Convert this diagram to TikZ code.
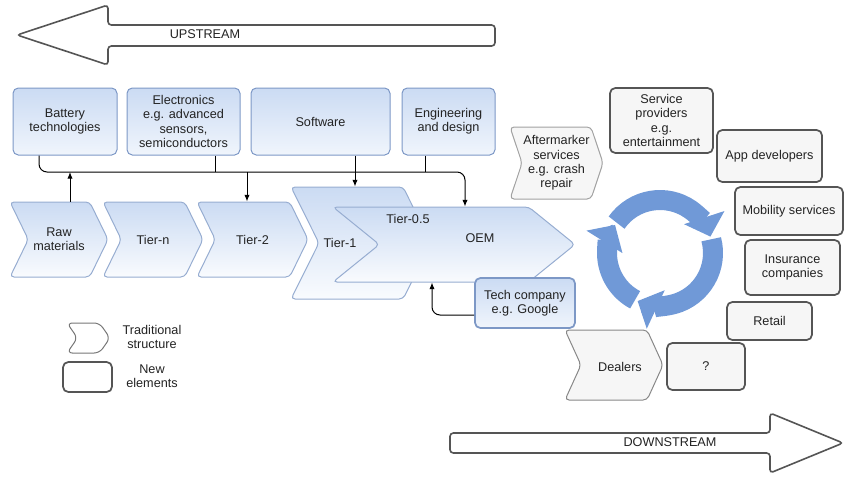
\documentclass[tikz,border=0pt]{standalone}
\usepackage{fontspec}
\setmainfont{Liberation Sans}
\usetikzlibrary{shapes.symbols,arrows.meta}

\definecolor{inktext}{RGB}{35,35,35}
\definecolor{blueline}{RGB}{125,152,198}
\definecolor{bluetop}{RGB}{203,219,243}
\definecolor{bluebot}{RGB}{240,245,252}
\definecolor{greyline}{RGB}{85,85,85}
\definecolor{greyfill}{RGB}{246,246,246}
\definecolor{cycblue}{RGB}{112,153,215}

\tikzset{every picture/.style={line width=0.75pt}}
\tikzset{
  every node/.style={font=\fontsize{9.5}{10.7}\selectfont, text=inktext, align=center, inner sep=0.75pt},
  bluebox/.style={rounded corners=4pt, draw=blueline, top color=bluetop, bottom color=bluebot, minimum height=50.25pt},
  chev/.style={signal, signal to=east, signal from=west, signal pointer angle=128, rounded corners=3pt,
    draw=blueline!80, top color=bluetop, bottom color=bluebot!40, minimum height=56.25pt},
  newbox/.style={rounded corners=4pt, draw=greyline, line width=1.3pt, fill=greyfill},
  greychev/.style={signal, signal to=east, signal from=west, rounded corners=3pt, draw=greyline!70, fill=greyfill},
  bigarrow/.style={rounded corners=2.5pt, draw=greyline, line width=1.2pt, fill=white},
  link/.style={-{Latex[length=5pt,width=4pt]}},
  cycarrow/.style={draw=cycblue, line width=15pt, -{Triangle[width=31pt,length=15pt]}}
}

\begin{document}
\begin{tikzpicture}[x=0.75pt,y=0.75pt,yscale=-1,xscale=1]
\useasboundingbox (0,0) rectangle (846,476);

%upstream / downstream
\draw[bigarrow] (17,35) -- (108,5) -- (108,25) -- (495,25) -- (495,46) -- (108,46) -- (108,65) -- cycle;
\node (up) at (205,34) {UPSTREAM};
\draw[bigarrow] (450,433) -- (770,433) -- (770,413) -- (843,443) -- (770,473) -- (770,453) -- (450,453) -- cycle;
\node (down) at (670,442) {DOWNSTREAM};

%suppliers on top
\node[bluebox, minimum width=78pt] (bat) at (65,121.5) {Battery\\technologies};
\node[bluebox, minimum width=84.75pt] (elec) at (183.5,121.5) {Electronics\\e.g. advanced\\sensors,\\semiconductors};
\node[bluebox, minimum width=104.25pt] (sw) at (320.5,121.5) {Software};
\node[bluebox, minimum width=69.75pt] (eng) at (448.5,121.5) {Engineering\\and design};

%traditional chain
\node[chev, minimum width=73.5pt] (raw) at (59,239.5) {Raw\\materials};
\node[chev, minimum width=75pt] (tn) at (153,239.5) {Tier-n};
\node[chev, minimum width=83.25pt] (t2) at (252.5,239.5) {Tier-2};
\node[chev, minimum width=105pt, minimum height=84pt, signal pointer angle=127] (t1) at (361,243) {};
\node (t1txt) at (340,243) {Tier-1};
\node[chev, minimum width=181.5pt, signal pointer angle=78] (oem) at (454,244.5) {};
\node (halftxt) at (408,219) {Tier-0.5};
\node (oemtxt) at (480,238) {OEM};
\node[bluebox, line width=1.3pt, minimum width=75pt, minimum height=37.5pt] (tech) at (525,303) {Tech company\\e.g. Google};

%bus
\coordinate (jb) at (39,172);
\coordinate (jr) at (70,172);
\coordinate (je) at (215,172);
\coordinate (j2) at (247,172);
\coordinate (js) at (355,172);
\coordinate (jg) at (425,172);
\coordinate (jo) at (465,172);
\coordinate (jt) at (432,315);
\draw[link, rounded corners=6pt] (bat.south -| jb) |- (jo) -- (jo |- oem.north);
\draw (elec.south -| je) -- (je);
\draw (eng.south -| jg) -- (jg);
\draw[link] (raw.north -| jr) -- (jr);
\draw[link] (j2) -- (j2 |- t2.north);
\draw[link] (sw.south -| js) -- (js |- t1.north);
\draw[link, rounded corners=6pt] (tech.west |- jt) -| (jt |- oem.south);

%downstream side
\node[greychev, draw=greyline!55, minimum width=69.75pt, minimum height=54pt, signal pointer angle=143] (aft) at (556.5,163) {Aftermarker\\services\\e.g. crash\\repair};
\node[newbox, minimum width=77.25pt, minimum height=48.75pt] (serv) at (661.5,120.5) {Service\\providers\\e.g.\\entertainment};
\node[newbox, minimum width=78.75pt, minimum height=39pt] (app) at (769.5,156) {App developers};
\node[newbox, minimum width=81pt, minimum height=36pt] (mob) at (789,211) {Mobility services};
\node[newbox, minimum width=71.25pt, minimum height=41.25pt] (ins) at (792.5,267.5) {Insurance\\companies};
\node[newbox, minimum width=63.75pt, minimum height=28.5pt] (ret) at (769.5,321) {Retail};
\node[newbox, minimum width=58.5pt, minimum height=35.25pt] (unk) at (706,366.5) {?};
\node[greychev, minimum width=73.5pt, minimum height=52.5pt, signal pointer angle=131] (deal) at (614,365) {};
\node (dealtxt) at (620,367) {Dealers};

%cycle
\coordinate (cyc) at (660,253);
\draw[cycarrow] (cyc) ++(-145:53) arc[start angle=-145, end angle=-18, radius=53];
\draw[cycarrow] (cyc) ++(-15:53) arc[start angle=-15, end angle=115, radius=53];
\draw[cycarrow] (cyc) ++(118:53) arc[start angle=118, end angle=212, radius=53];

%legend
\node[greychev, draw=greyline!80, fill=white, rounded corners=4pt, minimum width=32.25pt, minimum height=22.5pt, signal pointer angle=110] (legchev) at (88.5,338) {};
\node (legtrad) at (152,337) {Traditional\\structure};
\node[newbox, fill=white, minimum width=36.75pt, minimum height=22.5pt] (legbox) at (87.5,377) {};
\node (legnew) at (152,376) {New\\elements};

\end{tikzpicture}
\end{document}
